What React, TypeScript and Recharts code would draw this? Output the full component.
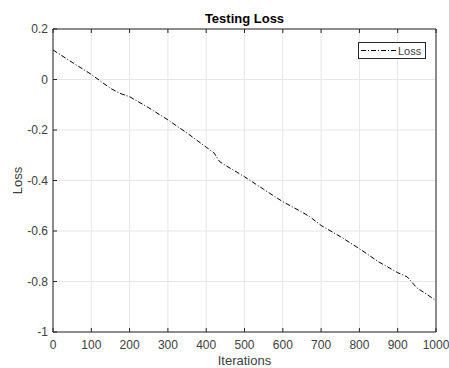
import React from 'react';
import { LineChart, Line, XAxis, YAxis, CartesianGrid, Legend } from 'recharts';

// values
const iterations = [0, 50, 100, 150, 175, 200, 250, 300, 350, 400, 420, 435, 450, 500, 550, 600, 650, 670, 700, 750, 800, 850, 900, 925, 950, 975, 1000];
const lossValues = [0.117, 0.068, 0.02, -0.035, -0.055, -0.068, -0.112, -0.16, -0.212, -0.268, -0.29, -0.325, -0.34, -0.385, -0.435, -0.484, -0.525, -0.543, -0.578, -0.622, -0.67, -0.722, -0.765, -0.782, -0.825, -0.85, -0.876];
const xTicks = [0, 100, 200, 300, 400, 500, 600, 700, 800, 900, 1000];
const yTicks = [-1, -0.8, -0.6, -0.4, -0.2, 0, 0.2];

const data = iterations.map((it, i) => ({ it, loss: lossValues[i] }));

const FONT = '"Liberation Sans", Arial, Helvetica, sans-serif';
const AXIS = '#262626';
const TEXT = '#404040';
const DASH = '5 2 1 2';

const noTick = () => <g />;

function LegendBox() {
  return (
    <div
      style={{
        width: 66,
        height: 15,
        border: `1px solid ${AXIS}`,
        background: '#fff',
        display: 'flex',
        alignItems: 'center',
        fontFamily: FONT,
        fontSize: 11,
        color: TEXT,
      }}
    >
      <svg width={38} height={15}>
        <line x1={2} y1={7.5} x2={37} y2={7.5} stroke="#000" strokeWidth={1} strokeDasharray={DASH} />
      </svg>
      <span style={{ marginLeft: 1 }}>Loss</span>
    </div>
  );
}

export default function App() {
  return (
    <div style={{ position: 'absolute', left: 0, top: 0, width: 449, height: 368, background: '#fff' }}>
      <LineChart
        width={449}
        height={368}
        data={data}
        margin={{ top: 28, right: 12, bottom: 6, left: 13 }}
        style={{ fontFamily: FONT }}
      >
        <CartesianGrid stroke="#e6e6e6" strokeWidth={1} xAxisId="b" yAxisId="l" />
        <XAxis
          xAxisId="b"
          dataKey="it"
          type="number"
          domain={[0, 1000]}
          ticks={xTicks}
          height={30}
          tickSize={-4}
          tickMargin={12}
          stroke={AXIS}
          tick={{ fill: TEXT, fontSize: 12 }}
          tickLine={{ stroke: AXIS }}
          label={{ value: 'Iterations', position: 'insideBottom', offset: -3, fill: TEXT, fontSize: 13 }}
        />
        <XAxis
          xAxisId="t"
          orientation="top"
          dataKey="it"
          type="number"
          domain={[0, 1000]}
          ticks={xTicks}
          height={1}
          tickSize={-4}
          stroke={AXIS}
          tick={noTick}
          tickLine={{ stroke: AXIS }}
          label={{ value: 'Testing Loss', position: 'top', offset: 5, fill: '#000', fontSize: 13, fontWeight: 'bold' }}
        />
        <YAxis
          yAxisId="l"
          type="number"
          domain={[-1, 0.2]}
          ticks={yTicks}
          width={40}
          tickSize={-4}
          tickMargin={9}
          stroke={AXIS}
          tick={{ fill: TEXT, fontSize: 12 }}
          tickLine={{ stroke: AXIS }}
          tickFormatter={(v: number) => String(v)}
          label={{
            content: (props: any) => {
              const vb = props.viewBox || { x: 13, y: 28, width: 40, height: 304 };
              const cx = vb.x + 4;
              const cy = vb.y + vb.height / 2;
              return (
                <text
                  x={cx}
                  y={cy}
                  transform={`rotate(-90 ${cx} ${cy})`}
                  textAnchor="middle"
                  dominantBaseline="central"
                  fill={TEXT}
                  fontSize={13}
                  fontFamily={FONT}
                >
                  Loss
                </text>
              );
            },
          }}
        />
        <YAxis
          yAxisId="r"
          orientation="right"
          type="number"
          domain={[-1, 0.2]}
          ticks={yTicks}
          width={1}
          tickSize={-4}
          stroke={AXIS}
          tick={noTick}
          tickLine={{ stroke: AXIS }}
        />
        <Legend
          layout="vertical"
          align="center"
          verticalAlign="middle"
          content={() => <LegendBox />}
          wrapperStyle={{ left: 358, top: 42, width: 68, height: 17 }}
        />
        <Line
          xAxisId="b"
          yAxisId="l"
          type="linear"
          dataKey="loss"
          name="Loss"
          stroke="#000"
          strokeWidth={1}
          strokeDasharray={DASH}
          dot={false}
          isAnimationActive={false}
        />
      </LineChart>
    </div>
  );
}
